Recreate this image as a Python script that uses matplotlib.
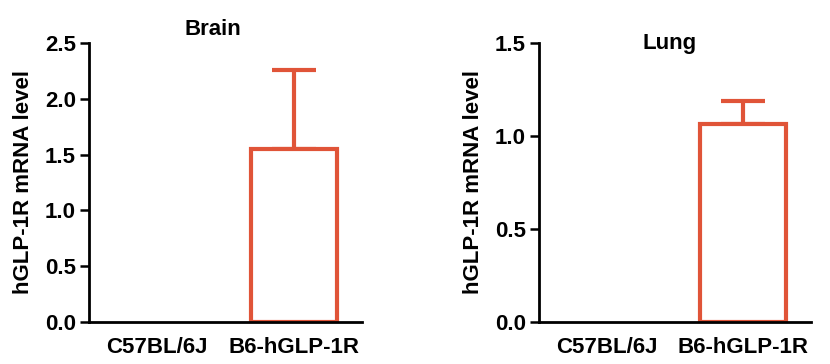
import matplotlib
matplotlib.use("Agg")
import matplotlib.pyplot as plt

categories = ["C57BL/6J", "B6-hGLP-1R"]
brain_values = [0.0, 1.55]
brain_err = [0.0, 0.71]
lung_values = [0.0, 1.065]
lung_err = [0.0, 0.125]
brain_ticks = [0.0, 0.5, 1.0, 1.5, 2.0, 2.5]
lung_ticks = [0.0, 0.5, 1.0, 1.5]

plt.rcParams['font.family'] = ['Liberation Sans', 'DejaVu Sans']
plt.rcParams['font.weight'] = 'bold'

color = '#E05438'
FS = 16
fig = plt.figure(figsize=(8.3, 3.64), dpi=100)
W, H = 830, 364

def make_ax(left, right, top, bottom):
    return fig.add_axes([left / W, 1 - bottom / H, (right - left) / W, (bottom - top) / H])

ax1 = make_ax(89, 362, 43, 322)
ax2 = make_ax(539, 811, 43, 322)

specs = [
    (ax1, brain_values, brain_err, brain_ticks, "Brain", 213, 35),
    (ax2, lung_values, lung_err, lung_ticks, "Lung", 670, 49),
]

for ax, vals, errs, ticks, title, tx, ty in specs:
    x = list(range(len(categories)))
    edges = [color if v > 0 else 'none' for v in vals]
    ax.bar(x, vals, width=0.63, facecolor='white', edgecolor=edges, linewidth=3.0, zorder=2)
    for xi, v, e in zip(x, vals, errs):
        if e > 0:
            ax.errorbar([xi], [v], yerr=[[0], [e]], fmt='none', ecolor=color,
                        elinewidth=3.0, capsize=16, capthick=3.0, zorder=1)
    ax.set_xlim(-0.5, 1.5)
    ax.set_ylim(ticks[0], ticks[-1])
    ax.set_yticks(ticks)
    ax.set_yticklabels([f"{t:.1f}" for t in ticks], fontsize=FS, fontweight='bold')
    ax.set_xticks(x)
    ax.set_xticklabels(categories, fontsize=FS, fontweight='bold')
    ax.tick_params(axis='x', length=0, pad=11)
    ax.tick_params(axis='y', length=6.5, width=1.8, pad=3)
    for s in ['top', 'right']:
        ax.spines[s].set_visible(False)
    for s in ['left', 'bottom']:
        ax.spines[s].set_linewidth(2.0)
        ax.spines[s].set_zorder(3)
    ax.set_ylabel("hGLP-1R mRNA level", fontsize=FS, fontweight='bold', labelpad=8)
    fig.text(tx / W, 1 - ty / H, title, fontsize=FS, fontweight='bold', ha='center', va='baseline')
    ax.patch.set_visible(False)

fig.savefig("out.png", dpi=100)
